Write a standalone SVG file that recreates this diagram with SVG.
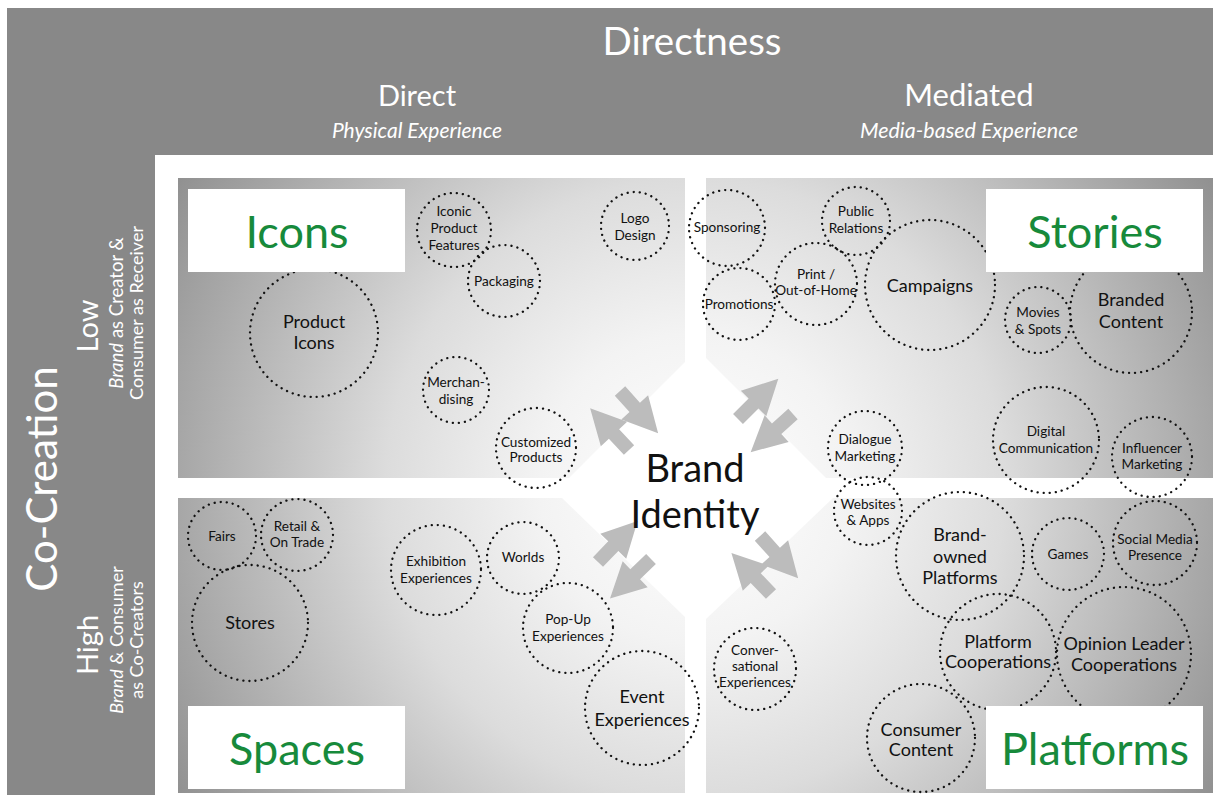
<svg xmlns="http://www.w3.org/2000/svg" width="1216" height="795" viewBox="0 0 1216 795">
<defs>
<radialGradient id="pg" gradientUnits="userSpaceOnUse" cx="695" cy="488" r="620">
<stop offset="0" stop-color="#ffffff"/>
<stop offset="0.25" stop-color="#f3f3f3"/>
<stop offset="0.5" stop-color="#dcdcdc"/>
<stop offset="0.75" stop-color="#b4b4b4"/>
<stop offset="1" stop-color="#8c8c8c"/>
</radialGradient>
<path id="arr" d="M0,-7 H22 V-18 L57,0 L22,18 V7 H0 Z"/>
</defs>
<style>
.t{font-family:Lato,"Liberation Sans",sans-serif;}
.hd{fill:#ffffff;text-anchor:middle;}
.c{fill:none;stroke:#111;stroke-width:2.3;stroke-dasharray:0.1 6;stroke-linecap:round;}
.s{font-size:13.6px;fill:#111;text-anchor:middle;}
.m{font-size:18px;fill:#111;text-anchor:middle;}
.lb{fill:#ffffff;}
.lt{font-size:45px;fill:#178a3b;text-anchor:middle;}
.a{fill:#bcbcbc;}
</style>
<rect width="1216" height="795" fill="#ffffff"/>
<g id="frame">
<rect x="7" y="8" width="1206" height="147" fill="#888888"/>
<rect x="7" y="8" width="148" height="787" fill="#888888"/>
</g>
<g id="headers" class="t">
<text class="hd" x="692" y="55" font-size="38.5">Directness</text>
<text class="hd" x="417" y="106" font-size="29">Direct</text>
<text class="hd" x="417" y="138" font-size="21" font-style="italic">Physical Experience</text>
<text class="hd" x="969" y="106" font-size="31">Mediated</text>
<text class="hd" x="969" y="138" font-size="21.5" font-style="italic">Media-based Experience</text>
<text class="hd" transform="translate(57,479) rotate(-90)" font-size="42">Co-Creation</text>
<text class="hd" transform="translate(98,326) rotate(-90)" font-size="29">Low</text>
<text class="hd" transform="translate(123,313) rotate(-90)" font-size="18.5"><tspan font-style="italic">Brand</tspan> as Creator &amp;</text>
<text class="hd" transform="translate(143,313) rotate(-90)" font-size="18">Consumer as Receiver</text>
<text class="hd" transform="translate(98,645) rotate(-90)" font-size="29">High</text>
<text class="hd" transform="translate(123,640) rotate(-90)" font-size="18"><tspan font-style="italic">Brand</tspan> &amp; Consumer</text>
<text class="hd" transform="translate(143,640) rotate(-90)" font-size="18">as Co-Creators</text>
</g>
<g id="panels" fill="url(#pg)">
<polygon points="178,178 685,178 685,362 569,478 178,478"/>
<polygon points="706,178 1213,178 1213,478 826,478 706,358"/>
<polygon points="178,498 562,498 685,617 685,793 178,793"/>
<polygon points="833,498 1213,498 1213,793 706,793 706,619"/>
</g>
<g id="connectors">
<use href="#arr" class="a" transform="translate(620,391) rotate(48)"/>
<use href="#arr" class="a" transform="translate(629,450) rotate(227)"/>
<use href="#arr" class="a" transform="translate(738,419) rotate(-45)"/>
<use href="#arr" class="a" transform="translate(793,414) rotate(138)"/>
<use href="#arr" class="a" transform="translate(598,562) rotate(-46)"/>
<use href="#arr" class="a" transform="translate(651,559) rotate(136)"/>
<use href="#arr" class="a" transform="translate(771,594) rotate(226)"/>
<use href="#arr" class="a" transform="translate(760,536) rotate(48)"/>
</g>
<g id="brand-identity" class="t">
<text x="695" y="482" font-size="38" fill="#111" text-anchor="middle">Brand</text>
<text x="695" y="528" font-size="38" fill="#111" text-anchor="middle">Identity</text>
</g>
<g class="t">
<g id="iconic-product-features"><circle class="c" cx="454" cy="230" r="37"/><text class="s" x="454" y="216">Iconic</text><text class="s" x="454" y="233">Product</text><text class="s" x="454" y="250">Features</text></g>
<g id="packaging"><circle class="c" cx="504" cy="281" r="36"/><text class="s" x="504" y="286">Packaging</text></g>
<g id="logo-design"><circle class="c" cx="635" cy="226" r="34"/><text class="s" x="635" y="223">Logo</text><text class="s" x="635" y="240">Design</text></g>
<g id="product-icons"><circle class="c" cx="314" cy="333" r="64"/><text class="m" x="314" y="328">Product</text><text class="m" x="314" y="349">Icons</text></g>
<g id="merchandising"><circle class="c" cx="456" cy="390" r="33"/><text class="s" x="456" y="387">Merchan-</text><text class="s" x="456" y="404">dising</text></g>
<g id="customized-products"><circle class="c" cx="536" cy="448" r="40"/><text class="s" x="536" y="447">Customized</text><text class="s" x="536" y="462">Products</text></g>

<g id="sponsoring"><circle class="c" cx="727" cy="228" r="38"/><text class="s" x="727" y="232">Sponsoring</text></g>
<g id="public-relations"><circle class="c" cx="856" cy="221" r="34"/><text class="s" x="856" y="216">Public</text><text class="s" x="856" y="233">Relations</text></g>
<g id="print-out-of-home"><circle class="c" cx="816" cy="284" r="41"/><text class="s" x="816" y="279" font-size="13">Print /</text><text class="s" x="816" y="295" font-size="13">Out-of-Home</text></g>
<g id="promotions"><circle class="c" cx="739" cy="304" r="36"/><text class="s" x="739" y="309">Promotions</text></g>
<g id="campaigns"><circle class="c" cx="930" cy="285" r="65"/><text class="m" x="930" y="292" font-size="19">Campaigns</text></g>
<g id="movies-spots"><circle class="c" cx="1038" cy="320" r="33"/><text class="s" x="1038" y="317">Movies</text><text class="s" x="1038" y="334">&amp; Spots</text></g>
<g id="branded-content"><circle class="c" cx="1131" cy="312" r="61"/><text class="m" x="1131" y="306">Branded</text><text class="m" x="1131" y="328">Content</text></g>
<g id="dialogue-marketing"><circle class="c" cx="865" cy="448" r="37"/><text class="s" x="865" y="444">Dialogue</text><text class="s" x="865" y="461">Marketing</text></g>
<g id="digital-communication"><circle class="c" cx="1046" cy="440" r="53"/><text class="s" x="1046" y="436" font-size="14.3">Digital</text><text class="s" x="1046" y="453" font-size="14.3">Communication</text></g>
<g id="influencer-marketing"><circle class="c" cx="1152" cy="457" r="40"/><text class="s" x="1152" y="453">Influencer</text><text class="s" x="1152" y="469">Marketing</text></g>

<g id="fairs"><circle class="c" cx="222" cy="536" r="34"/><text class="s" x="222" y="541">Fairs</text></g>
<g id="retail-on-trade"><circle class="c" cx="297" cy="535" r="36"/><text class="s" x="297" y="531">Retail &amp;</text><text class="s" x="297" y="547">On Trade</text></g>
<g id="stores"><circle class="c" cx="250" cy="623" r="58"/><text class="m" x="250" y="629">Stores</text></g>
<g id="exhibition-experiences"><circle class="c" cx="436" cy="570" r="45"/><text class="s" x="436" y="566">Exhibition</text><text class="s" x="436" y="583">Experiences</text></g>
<g id="worlds"><circle class="c" cx="523" cy="558" r="36"/><text class="s" x="523" y="562">Worlds</text></g>
<g id="pop-up-experiences"><circle class="c" cx="568" cy="628" r="45"/><text class="s" x="568" y="624">Pop-Up</text><text class="s" x="568" y="641">Experiences</text></g>
<g id="event-experiences"><circle class="c" cx="642" cy="708" r="57"/><text class="m" x="642" y="703">Event</text><text class="m" x="642" y="726">Experiences</text></g>

<g id="websites-apps"><circle class="c" cx="868" cy="511" r="34"/><text class="s" x="868" y="509" font-size="13">Websites</text><text class="s" x="868" y="525" font-size="13">&amp; Apps</text></g>
<g id="brand-owned-platforms"><circle class="c" cx="960" cy="556" r="64"/><text class="m" x="960" y="541">Brand-</text><text class="m" x="960" y="563">owned</text><text class="m" x="960" y="584">Platforms</text></g>
<g id="games"><circle class="c" cx="1068" cy="554" r="36"/><text class="s" x="1068" y="559">Games</text></g>
<g id="social-media-presence"><circle class="c" cx="1155" cy="543" r="42"/><text class="s" x="1155" y="544">Social Media</text><text class="s" x="1155" y="560">Presence</text></g>
<g id="platform-cooperations"><circle class="c" cx="998" cy="652" r="58"/><text class="m" x="998" y="648" font-size="17">Platform</text><text class="m" x="998" y="668" font-size="17">Cooperations</text></g>
<g id="opinion-leader-cooperations"><circle class="c" cx="1124" cy="654" r="67"/><text class="m" x="1124" y="650">Opinion Leader</text><text class="m" x="1124" y="671">Cooperations</text></g>
<g id="conversational-experiences"><circle class="c" cx="755" cy="669" r="41"/><text class="s" x="755" y="655" font-size="13">Conver-</text><text class="s" x="755" y="671" font-size="13">sational</text><text class="s" x="755" y="687" font-size="13">Experiences</text></g>
<g id="consumer-content"><circle class="c" cx="921" cy="738" r="54"/><text class="m" x="921" y="736">Consumer</text><text class="m" x="921" y="756">Content</text></g>
</g>
<g id="label-icons"><rect class="lb" x="188" y="189" width="217" height="83"/><text class="t lt" x="297" y="248">Icons</text></g>
<g id="label-stories"><rect class="lb" x="986" y="189" width="217" height="83"/><text class="t lt" x="1095" y="248">Stories</text></g>
<g id="label-spaces"><rect class="lb" x="188" y="706" width="217" height="83"/><text class="t lt" x="297" y="765">Spaces</text></g>
<g id="label-platforms"><rect class="lb" x="986" y="706" width="217" height="83"/><text class="t lt" x="1095" y="765">Platforms</text></g>
</svg>
